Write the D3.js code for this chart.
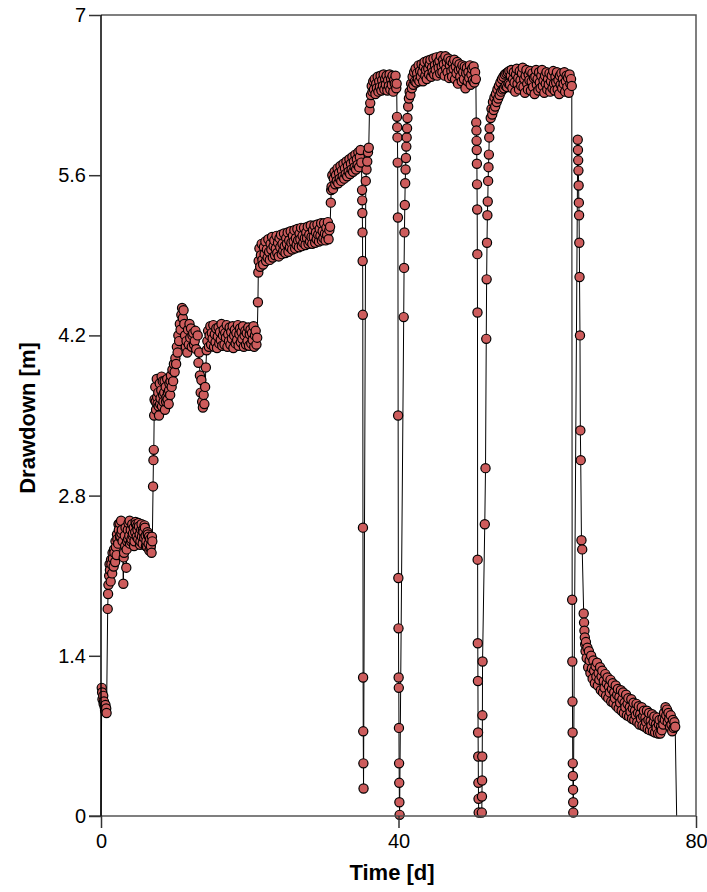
<!DOCTYPE html>
<html>
<head>
<meta charset="utf-8">
<script src="https://cdn.jsdelivr.net/npm/d3@7"></script>
<style>
  body { margin: 0; background: #fff; }
  svg { display: block; }
  .tick text { font-family: "Liberation Sans", Arial, sans-serif; font-size: 20px; fill: #000; }
  .axis-title { font-family: "Liberation Sans", Arial, sans-serif; font-size: 22px; font-weight: bold; fill: #000; }
</style>
</head>
<body>
<div id="chart"></div>
<script>
// ---- data: time [d], drawdown [m] ----
const lineStart = [0, 0];
const lineEnd = [77.4, 0];

const initial = [[0.1,1.12],[0.15,1.08],[0.2,1.02],[0.3,1.05],[0.35,0.98],[0.4,1.0],[0.5,0.95],[0.55,0.92],[0.6,0.97],[0.7,0.94],[0.75,0.9],
  [0.9,1.81],[0.95,1.94],[1.0,2.02]];

const stage1 = [[1.1,2.1],[1.15,2.2],[1.2,2.15],[1.3,2.05],[1.35,2.24],[1.4,2.2],[1.5,2.12],[1.55,2.3],[1.6,2.25],[1.7,2.18],[1.75,2.33],[1.8,2.3],[1.9,2.22],[1.95,2.4],[2.0,2.35],[2.1,2.28],[2.15,2.46],[2.2,2.42],[2.3,2.38],[2.35,2.55],[2.4,2.5],[2.5,2.56],[2.55,2.44],[2.6,2.45],[2.7,2.58],[2.75,2.47],[2.8,2.5],[2.9,2.4],[3.0,2.03],[3.05,2.26],[3.1,2.3],[3.2,2.45],[3.25,2.36],[3.3,2.52],[3.4,2.17],[3.45,2.33],[3.5,2.4],[3.6,2.5],[3.65,2.42],[3.7,2.56],[3.8,2.45],[3.85,2.58],[3.9,2.38],[4.0,2.5],[4.05,2.4],[4.1,2.42],[4.2,2.55],[4.25,2.45],[4.3,2.47],[4.4,2.52],[4.45,2.36],[4.5,2.4],[4.6,2.48],[4.65,2.57],[4.7,2.55],[4.8,2.44],[4.85,2.53],[4.9,2.5],[5.0,2.42],[5.05,2.56],[5.1,2.53],[5.2,2.46],[5.25,2.37],[5.3,2.4],[5.4,2.5],[5.45,2.55],[5.5,2.44],[5.6,2.38],[5.65,2.5],[5.7,2.48],[5.8,2.43],[5.85,2.54],[5.9,2.52],[6.0,2.45],[6.05,2.36],[6.1,2.4],[6.2,2.35],[6.25,2.48],[6.3,2.46],[6.4,2.38],[6.45,2.44],[6.5,2.32],[6.6,2.42],[6.65,2.34],[6.7,2.36],[6.8,2.3],[6.85,2.44],[6.9,2.4],
  [7.0,2.88],[7.05,3.11],[7.1,3.2],[7.15,3.5],[7.2,3.64]];

const stage2 = [[7.3,3.75],[7.35,3.62],[7.4,3.55],[7.5,3.82],[7.55,3.66],[7.6,3.6],[7.7,3.7],[7.75,3.58],[7.8,3.5],[7.9,3.78],[7.95,3.6],[8.0,3.65],[8.1,3.72],[8.15,3.84],[8.2,3.58],[8.3,3.8],[8.35,3.68],[8.4,3.62],[8.5,3.7],[8.55,3.8],[8.6,3.55],[8.7,3.75],[8.75,3.62],[8.8,3.66],[8.9,3.82],[8.95,3.64],[9.0,3.7],[9.1,3.6],[9.15,3.72],[9.2,3.78],[9.3,3.68],[9.35,3.8],[9.4,3.85],[9.5,3.75],[9.6,3.9],[9.7,3.8],[9.8,3.95],[9.9,3.88],[10.0,4.0],[10.1,3.95],[10.2,4.1],[10.3,4.05],[10.4,4.2],[10.5,4.15],[10.6,4.3],[10.7,4.25],[10.8,4.38],[10.9,4.44],[11.0,4.35],[11.1,4.42],[11.2,4.3],[11.3,4.2],[11.4,4.1],[11.5,4.15],[11.6,4.05],[11.7,4.25],[11.8,4.12],[11.9,4.3],[12.0,4.18],[12.1,4.26],[12.2,4.1],[12.3,4.2],[12.4,4.22],[12.5,4.12],[12.6,4.15],[12.7,4.24],[12.8,4.08],[13.0,4.2],[13.1,3.96],[13.2,4.05],[13.3,3.85],[13.4,3.7],[13.5,3.81],[13.6,3.62],[13.7,3.57],[13.8,3.68],[13.9,3.6],[14.0,3.75],[14.1,3.92],[14.2,4.07]];

const stage3 = [[14.3,4.15],[14.4,4.24],[14.5,4.1],[14.6,4.2],[14.7,4.28],[14.8,4.12],[14.9,4.22],[15.0,4.17],[15.1,4.29],[15.2,4.1],[15.3,4.21],[15.4,4.14],[15.5,4.26],[15.6,4.09],[15.7,4.19],[15.8,4.27],[15.9,4.13],[16.0,4.23],[16.1,4.16],[16.2,4.3],[16.3,4.11],[16.4,4.2],[16.5,4.25],[16.6,4.12],[16.7,4.22],[16.8,4.18],[16.9,4.29],[17.0,4.1],[17.1,4.21],[17.2,4.15],[17.3,4.27],[17.4,4.12],[17.5,4.23],[17.6,4.17],[17.7,4.28],[17.8,4.09],[17.9,4.2],[18.0,4.25],[18.1,4.13],[18.2,4.22],[18.3,4.16],[18.4,4.29],[18.5,4.11],[18.6,4.21],[18.7,4.26],[18.8,4.14],[18.9,4.23],[19.0,4.17],[19.1,4.28],[19.2,4.1],[19.3,4.2],[19.4,4.24],[19.5,4.12],[19.6,4.22],[19.7,4.15],[19.8,4.27],[19.9,4.11],[20.0,4.21],[20.1,4.25],[20.2,4.13],[20.3,4.22],[20.4,4.16],[20.5,4.28],[20.6,4.1],[20.7,4.2],[20.8,4.24],[20.9,4.12],[21.0,4.18],
  [21.1,4.49],[21.15,4.75]];

const stage4 = [[21.2,4.85],[21.3,4.96],[21.4,4.8],[21.5,4.9],[21.6,5.0],[21.7,4.86],[21.8,4.82],[21.9,4.97],[22.0,4.91],[22.1,5.02],[22.2,4.85],[22.3,4.95],[22.4,4.88],[22.5,5.04],[22.6,4.93],[22.7,4.86],[22.8,5.0],[22.9,4.95],[23.0,5.06],[23.1,4.88],[23.2,4.98],[23.3,5.03],[23.4,4.9],[23.5,4.96],[23.6,5.07],[23.7,4.92],[23.8,5.01],[23.9,4.89],[24.0,5.05],[24.1,4.97],[24.2,5.08],[24.3,4.91],[24.4,5.0],[24.5,4.94],[24.6,5.09],[24.7,4.98],[24.8,4.92],[24.9,5.05],[25.0,5.0],[25.1,5.1],[25.2,4.93],[25.3,5.03],[25.4,4.97],[25.5,5.11],[25.6,5.01],[25.7,4.95],[25.8,5.07],[25.9,5.02],[26.0,5.12],[26.1,4.96],[26.2,5.05],[26.3,4.99],[26.4,5.13],[26.5,5.03],[26.6,4.97],[26.7,5.09],[26.8,5.04],[26.9,5.14],[27.0,4.98],[27.1,5.07],[27.2,5.01],[27.3,5.14],[27.4,5.05],[27.5,4.99],[27.6,5.1],[27.7,5.05],[27.8,5.15],[27.9,5.0],[28.0,5.08],[28.1,5.02],[28.2,5.16],[28.3,5.06],[28.4,5.0],[28.5,5.12],[28.6,5.06],[28.7,5.16],[28.8,5.01],[28.9,5.1],[29.0,5.04],[29.1,5.17],[29.2,5.08],[29.3,5.02],[29.4,5.13],[29.5,5.07],[29.6,5.18],[29.7,5.03],[29.8,5.11],[29.9,5.05],[30.0,5.18],[30.1,5.09],[30.2,5.03],[30.3,5.14],[30.4,5.08],[30.5,5.19],[30.6,5.04],[30.7,5.12],[30.8,5.15],
  [30.9,5.36],[30.95,5.47]];

const stage5 = [[31.0,5.5],[31.1,5.6],[31.2,5.48],[31.3,5.57],[31.4,5.63],[31.5,5.52],[31.6,5.6],[31.7,5.55],[31.8,5.66],[31.9,5.53],[32.0,5.62],[32.1,5.57],[32.2,5.68],[32.3,5.55],[32.4,5.64],[32.5,5.59],[32.6,5.7],[32.7,5.57],[32.8,5.66],[32.9,5.61],[33.0,5.72],[33.1,5.59],[33.2,5.68],[33.3,5.63],[33.4,5.74],[33.5,5.61],[33.6,5.7],[33.7,5.65],[33.8,5.76],[33.9,5.63],[34.0,5.72],[34.1,5.67],[34.2,5.78],[34.3,5.65],[34.4,5.74],[34.5,5.69],[34.6,5.8],[34.7,5.67],[34.8,5.76],[34.9,5.82],[35.0,5.71],
  [35.1,5.47],[35.12,5.38],[35.14,5.27],[35.16,5.1],[35.18,4.85],[35.2,4.38],[35.22,2.52],[35.24,1.21],[35.26,0.74],[35.28,0.46],[35.3,0.24],
  [35.6,5.55],[35.7,5.65],[35.8,5.72],[35.9,5.8],[36.0,5.84],[36.1,6.17],[36.2,6.23]];

const stage6 = [[36.3,6.3],[36.4,6.38],[36.5,6.33],[36.6,6.42],[36.7,6.35],[36.8,6.44],[36.9,6.31],[37.0,6.4],[37.1,6.36],[37.2,6.46],[37.3,6.33],[37.4,6.42],[37.5,6.37],[37.6,6.47],[37.7,6.34],[37.8,6.43],[37.9,6.38],[38.0,6.48],[38.1,6.35],[38.2,6.44],[38.3,6.39],[38.4,6.47],[38.5,6.34],[38.6,6.43],[38.7,6.38],[38.8,6.48],[38.9,6.35],[39.0,6.44],[39.1,6.39],[39.2,6.47],[39.3,6.33],[39.4,6.43],[39.5,6.4],[39.6,6.47],[39.7,6.36],[39.75,6.4],
  [39.8,6.11],[39.83,6.02],[39.86,5.93],[39.89,5.71],[39.92,5.23],[39.95,3.5],[39.98,2.08],[40.0,1.64],[40.02,1.21],[40.04,1.12],[40.06,0.77],[40.08,0.46],[40.1,0.29],[40.12,0.12],[40.15,0.01],
  [40.7,4.36],[40.75,4.79],[40.8,5.1],[40.85,5.34],[40.9,5.53],[40.95,5.65],[41.0,5.75],[41.05,5.85],[41.1,5.93],[41.15,6.01],[41.2,6.1]];

const stage7 = [[41.3,6.2],[41.4,6.27],[41.5,6.33],[41.6,6.3],[41.7,6.4],[41.8,6.36],[41.9,6.46],[42.0,6.39],[42.1,6.5],[42.2,6.42],[42.3,6.53],[42.4,6.41],[42.5,6.49],[42.6,6.44],[42.7,6.56],[42.8,6.42],[42.9,6.51],[43.0,6.46],[43.1,6.57],[43.2,6.5],[43.3,6.42],[43.4,6.55],[43.5,6.59],[43.6,6.47],[43.7,6.52],[43.8,6.44],[43.9,6.6],[44.0,6.53],[44.1,6.48],[44.2,6.57],[44.3,6.61],[44.4,6.46],[44.5,6.54],[44.6,6.5],[44.7,6.62],[44.8,6.48],[44.9,6.56],[45.0,6.52],[45.1,6.63],[45.2,6.47],[45.3,6.58],[45.4,6.54],[45.5,6.6],[45.6,6.49],[45.7,6.64],[45.8,6.55],[45.9,6.5],[46.0,6.61],[46.1,6.57],[46.2,6.47],[46.3,6.64],[46.4,6.53],[46.5,6.59],[46.6,6.5],[46.7,6.62],[46.8,6.45],[46.9,6.56],[47.0,6.6],[47.1,6.51],[47.2,6.46],[47.3,6.58],[47.4,6.53],[47.5,6.61],[47.6,6.44],[47.7,6.55],[47.8,6.49],[47.9,6.59],[48.0,6.4],[48.1,6.52],[48.2,6.57],[48.3,6.46],[48.4,6.53],[48.5,6.42],[48.6,6.56],[48.7,6.5],[48.8,6.44],[48.9,6.55],[49.0,6.36],[49.1,6.49],[49.2,6.54],[49.3,6.42],[49.4,6.5],[49.5,6.45],[49.6,6.56],[49.7,6.39],[49.8,6.48],[49.9,6.53],[50.0,6.43],[50.1,6.55],[50.2,6.41],[50.3,6.5],[50.4,6.44],
  [50.45,6.06],[50.48,5.99],[50.5,5.9],[50.52,5.82],[50.54,5.7],[50.56,5.52],[50.58,5.3],[50.6,4.91],[50.62,4.4],[50.64,2.24],[50.66,1.51],[50.68,1.18],[50.7,0.73],[50.72,0.52],[50.74,0.29],[50.76,0.15],[50.78,0.03],
  [51.2,0.03],[51.22,0.17],[51.24,0.31],[51.26,0.52],[51.28,0.88],[51.3,1.35],[51.6,2.55],[51.7,3.04],[51.8,4.17],[51.85,4.69],[51.9,5.01],[51.95,5.25],[52.0,5.37],[52.05,5.55],[52.1,5.67],[52.15,5.78],[52.2,5.93],[52.25,6.01]];

const stage8 = [[52.4,6.1],[52.5,6.18],[52.6,6.13],[52.7,6.24],[52.8,6.17],[52.9,6.28],[53.0,6.2],[53.1,6.31],[53.2,6.24],[53.3,6.35],[53.4,6.27],[53.5,6.38],[53.6,6.3],[53.7,6.41],[53.8,6.33],[53.9,6.44],[54.0,6.35],[54.1,6.46],[54.2,6.36],[54.3,6.48],[54.4,6.38],[54.5,6.49],[54.6,6.37],[54.7,6.5],[54.8,6.4],[54.9,6.51],
  [55.0,6.39],[55.1,6.47],[55.2,6.52],[55.3,6.36],[55.4,6.44],[55.5,6.5],[55.6,6.41],[55.7,6.33],[55.8,6.48],[55.9,6.53],[56.0,6.4],[56.1,6.45],[56.2,6.35],[56.3,6.51],[56.4,6.43],[56.5,6.38],[56.6,6.49],[56.7,6.54],[56.8,6.37],[56.9,6.44],[57.0,6.32],[57.1,6.47],[57.2,6.52],[57.3,6.4],[57.4,6.35],[57.5,6.48],[57.6,6.43],[57.7,6.51],[57.8,6.34],[57.9,6.42],[58.0,6.49],[58.1,6.37],[58.2,6.45],[58.3,6.31],[58.4,6.46],[58.5,6.52],[58.6,6.39],[58.7,6.44],[58.8,6.34],[58.9,6.5],[59.0,6.41],[59.1,6.36],[59.2,6.47],[59.3,6.52],[59.4,6.38],[59.5,6.43],[59.6,6.32],[59.7,6.47],[59.8,6.4],[59.9,6.5],[60.0,6.35],[60.1,6.44],[60.2,6.39],[60.3,6.49],[60.4,6.33],[60.5,6.42],[60.6,6.47],[60.7,6.36],[60.8,6.51],[60.9,6.4],[61.0,6.34],[61.1,6.46],[61.2,6.41],[61.3,6.5],[61.4,6.35],[61.5,6.43],[61.6,6.31],[61.7,6.47],[61.8,6.39],[61.9,6.49],[62.0,6.36],[62.1,6.44],[62.2,6.4],[62.3,6.5],[62.4,6.33],[62.5,6.42],[62.6,6.47],[62.7,6.37],[62.8,6.45],[62.9,6.32],[63.0,6.48],[63.1,6.4],[63.2,6.44],[63.3,6.38],
  [63.35,1.89],[63.37,1.35],[63.39,1.0],[63.41,0.73],[63.43,0.46],[63.45,0.35],[63.47,0.23],[63.49,0.12],[63.5,0.03],
  [64.1,5.91],[64.13,5.82],[64.16,5.73],[64.19,5.64],[64.22,5.51],[64.25,5.36],[64.28,5.25],[64.31,5.01],[64.34,4.71],[64.4,4.2],[64.45,3.37],[64.5,3.11],[64.6,2.41],[64.7,2.33]];

const recovery = [[64.9,1.77],[64.95,1.69],[65.0,1.62],[65.05,1.56],[65.1,1.5],[65.15,1.44],[65.2,1.52],[65.3,1.38],[65.4,1.47],[65.5,1.3],[65.6,1.44],[65.7,1.36],[65.8,1.25],[65.9,1.4],[66.0,1.29],[66.1,1.2],[66.2,1.36],[66.3,1.27],[66.4,1.16],[66.5,1.31],[66.6,1.22],[66.7,1.34],[66.8,1.14],[66.9,1.25],[67.0,1.19],[67.1,1.3],[67.2,1.1],[67.3,1.22],[67.4,1.27],[67.5,1.08],[67.6,1.18],[67.7,1.12],[67.8,1.24],[67.9,1.05],[68.0,1.16],[68.1,1.21],[68.2,1.03],[68.3,1.13],[68.4,1.08],[68.5,1.19],[68.6,1.0],[68.7,1.11],[68.8,1.16],[68.9,0.99],[69.0,1.08],[69.1,1.03],[69.2,1.14],[69.3,0.96],[69.4,1.06],[69.5,1.11],[69.6,0.94],[69.7,1.04],[69.8,0.99],[69.9,1.1],[70.0,0.92],[70.1,1.02],[70.2,1.08],[70.3,0.9],[70.4,0.99],[70.5,0.95],[70.6,1.06],[70.7,0.88],[70.8,0.98],[70.9,1.03],[71.0,0.87],[71.1,0.95],[71.2,0.91],[71.3,1.02],[71.4,0.85],[71.5,0.94],[71.6,0.99],[71.7,0.84],[71.8,0.92],[71.9,0.88],[72.0,0.98],[72.1,0.82],[72.2,0.9],[72.3,0.96],[72.4,0.8],[72.5,0.89],[72.6,0.85],[72.7,0.95],[72.8,0.79],[72.9,0.87],[73.0,0.92],[73.1,0.78],[73.2,0.86],[73.3,0.82],[73.4,0.92],[73.5,0.76],[73.6,0.84],[73.7,0.9],[73.8,0.75],[73.9,0.83],[74.0,0.79],[74.1,0.89],[74.2,0.74],[74.3,0.82],[74.4,0.87],[74.5,0.73],[74.6,0.8],[74.7,0.77],[74.8,0.86],[74.9,0.72],[75.0,0.8],[75.1,0.84],[75.2,0.72],[75.3,0.78],[75.4,0.75],[75.5,0.85],[75.6,0.8],[75.7,0.9],[75.8,0.84],[75.9,0.95],[76.0,0.88],[76.1,0.93],[76.2,0.82],[76.3,0.9],[76.4,0.85],[76.5,0.78],[76.6,0.88],[76.7,0.8],[76.8,0.74],[76.9,0.84],[77.0,0.77],[77.1,0.82],[77.2,0.78]];

const xTicks = [0, 40, 80];
const yTicks = [0, 1.4, 2.8, 4.2, 5.6, 7];

// ---- layout ----
const width = 707, height = 892;
const plotLeft = 101, plotRight = 696, plotTop = 15, plotBottom = 816;

const svg = d3.select('#chart').append('svg')
    .attr('width', width)
    .attr('height', height);

const x = d3.scaleLinear().domain([0, 80]).range([plotLeft, plotRight]);
const y = d3.scaleLinear().domain([0, 7]).range([plotBottom, plotTop]);

const markers = [].concat(initial, stage1, stage2, stage3, stage4, stage5, stage6, stage7, stage8, recovery);
const path = [lineStart].concat(markers, [lineEnd]);

// frame (top / right)
svg.append('path')
    .attr('d', `M${plotLeft},${plotTop}H${plotRight}V${plotBottom}`)
    .attr('fill', 'none')
    .attr('stroke', '#555')
    .attr('stroke-width', 1.5);

// data line
const line = d3.line().x(d => x(d[0])).y(d => y(d[1]));
svg.append('path')
    .datum(path)
    .attr('d', line)
    .attr('fill', 'none')
    .attr('stroke', '#000')
    .attr('stroke-width', 1);

// markers
svg.append('g').selectAll('circle')
    .data(markers)
    .enter()
    .append('circle')
    .attr('cx', d => x(d[0]))
    .attr('cy', d => y(d[1]))
    .attr('r', 4.6)
    .attr('fill', '#cd5c5c')
    .attr('stroke', '#000')
    .attr('stroke-width', 1.2);

// axes
const xAxis = svg.append('g')
    .attr('transform', `translate(0,${plotBottom})`)
    .call(d3.axisBottom(x).tickValues(xTicks).tickSize(12).tickPadding(6).tickFormat(d3.format('d')));
const yAxis = svg.append('g')
    .attr('transform', `translate(${plotLeft},0)`)
    .call(d3.axisLeft(y).tickValues(yTicks).tickSize(12).tickPadding(3).tickFormat(d => d));

xAxis.select('.domain').attr('stroke', '#555').attr('stroke-width', 1.5).attr('d', `M${plotLeft - 12},0H${plotRight}`);
xAxis.selectAll('.tick line').attr('stroke', '#333').attr('stroke-width', 1.5);
yAxis.select('.domain').attr('stroke', '#000').attr('stroke-width', 1.5).attr('d', `M0,${plotTop}V${plotBottom}`);
yAxis.selectAll('.tick line').attr('stroke', '#333').attr('stroke-width', 1.5);

// titles
svg.append('text')
    .attr('class', 'axis-title')
    .attr('x', 392)
    .attr('y', 880)
    .attr('text-anchor', 'middle')
    .text('Time [d]');

svg.append('text')
    .attr('class', 'axis-title')
    .attr('transform', 'translate(35,418) rotate(-90)')
    .attr('text-anchor', 'middle')
    .text('Drawdown [m]');
</script>
</body>
</html>
